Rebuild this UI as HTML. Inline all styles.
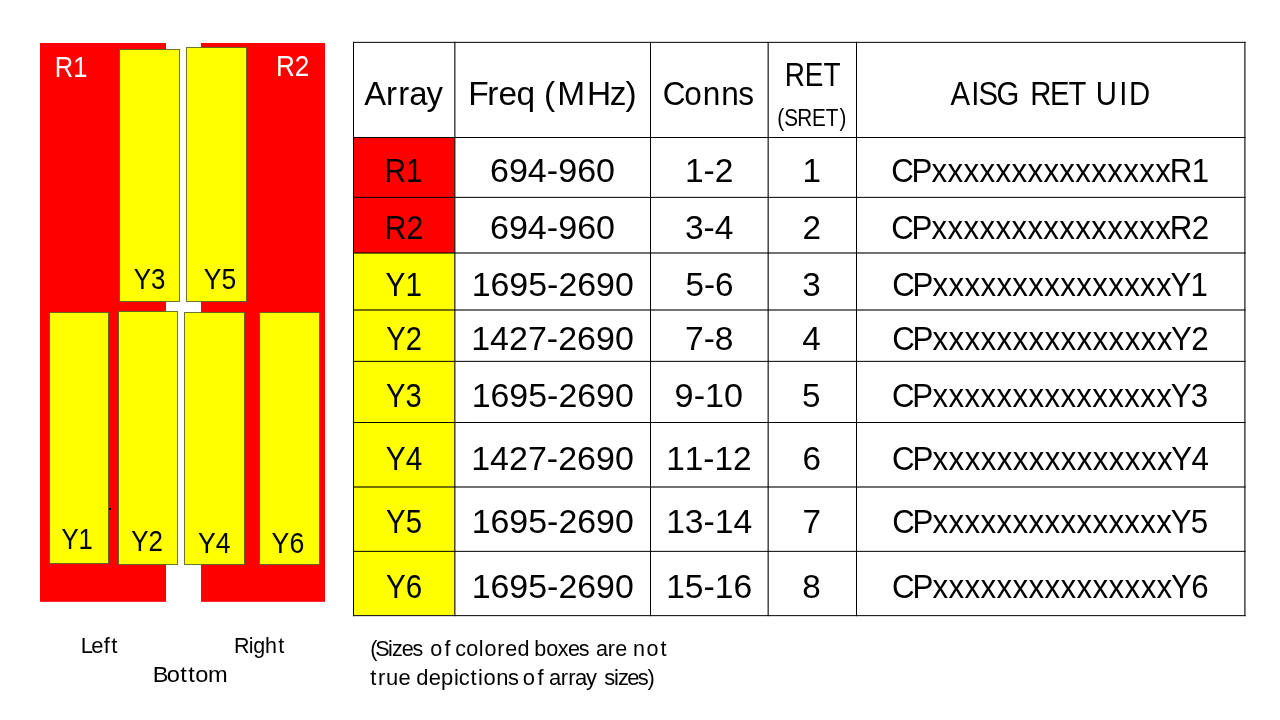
<!DOCTYPE html>
<html lang="en"><head><meta charset="utf-8"><title>Array table</title>
<style>
html,body{margin:0;padding:0;background:#fff;}
body{width:1280px;height:720px;overflow:hidden;}
svg{display:block;font-family:"Liberation Sans", sans-serif;}
text{white-space:pre;}
</style></head><body>
<svg width="1280" height="720" viewBox="0 0 1280 720">
<rect x="40" y="43" width="126" height="558.8" fill="#ff0000"/>
<rect x="201" y="43" width="124" height="558.8" fill="#ff0000"/>
<rect x="119.5" y="49.5" width="60" height="252" fill="#ffff00" stroke="#4f5f22" stroke-opacity="0.85" stroke-width="1"/>
<rect x="186.5" y="47.5" width="60" height="254" fill="#ffff00" stroke="#4f5f22" stroke-opacity="0.85" stroke-width="1"/>
<rect x="49.5" y="312.5" width="59" height="251" fill="#ffff00" stroke="#4f5f22" stroke-opacity="0.85" stroke-width="1"/>
<rect x="118.5" y="311.5" width="59" height="253" fill="#ffff00" stroke="#4f5f22" stroke-opacity="0.85" stroke-width="1"/>
<rect x="184.5" y="312.5" width="60" height="252" fill="#ffff00" stroke="#4f5f22" stroke-opacity="0.85" stroke-width="1"/>
<rect x="259.5" y="312.5" width="60" height="252" fill="#ffff00" stroke="#4f5f22" stroke-opacity="0.85" stroke-width="1"/>
<rect x="109" y="508" width="2" height="2" fill="#000"/>
<rect x="354" y="138" width="100.6" height="115" fill="#ff0000"/>
<rect x="354" y="253" width="100.6" height="362.3" fill="#ffff00"/>
<rect x="353" y="41.85" width="892.6" height="1" fill="#000"/>
<rect x="353" y="137" width="892.6" height="1" fill="#000"/>
<rect x="353" y="196.85" width="892.6" height="1" fill="#000"/>
<rect x="353" y="252.45" width="892.6" height="1.1" fill="#000"/>
<rect x="353" y="309.45" width="892.6" height="1.1" fill="#000"/>
<rect x="353" y="360.85" width="892.6" height="1" fill="#000"/>
<rect x="353" y="422" width="892.6" height="1" fill="#000"/>
<rect x="353" y="486.45" width="892.6" height="1.1" fill="#000"/>
<rect x="353" y="550.85" width="892.6" height="1" fill="#000"/>
<rect x="353" y="615.15" width="892.6" height="1" fill="#000"/>
<rect x="353" y="41.85" width="1" height="574.3" fill="#000"/>
<rect x="454.3" y="41.85" width="1.1" height="574.3" fill="#000"/>
<rect x="650" y="41.85" width="1" height="574.3" fill="#000"/>
<rect x="767.6" y="41.85" width="1.1" height="574.3" fill="#000"/>
<rect x="856" y="41.85" width="1" height="574.3" fill="#000"/>
<rect x="1244.35" y="41.85" width="1.1" height="574.3" fill="#000"/>
<text transform="translate(0 76.90) scale(0.8745 1)" x="62.67 83.76" font-size="29.20" fill="#fff">R1</text>
<text transform="translate(0 75.70) scale(0.8935 1)" x="308.84 329.93" font-size="29.20" fill="#fff">R2</text>
<text transform="translate(0 288.75) scale(0.8878 1)" x="150.74 170.22" font-size="29.20" fill="#000">Y3</text>
<text transform="translate(0 288.75) scale(0.9040 1)" x="225.45 244.93" font-size="29.20" fill="#000">Y5</text>
<text transform="translate(0 549.10) scale(0.8797 1)" x="69.84 89.31" font-size="29.20" fill="#000">Y1</text>
<text transform="translate(0 551.40) scale(0.8868 1)" x="147.99 167.47" font-size="29.20" fill="#000">Y2</text>
<text transform="translate(0 552.70) scale(0.9089 1)" x="217.98 237.46" font-size="29.20" fill="#000">Y4</text>
<text transform="translate(0 552.70) scale(0.9144 1)" x="297.03 316.50" font-size="29.20" fill="#000">Y6</text>
<text transform="translate(0 652.75) scale(1.0037 1)" x="80.40 91.05 103.42 110.84" font-size="21.90" fill="#000">Left</text>
<text transform="translate(0 652.75) scale(0.9803 1)" x="238.84 253.64 258.43 270.45 283.88" font-size="21.90" fill="#000">Right</text>
<text transform="translate(0 681.60) scale(1.0780 1)" x="141.70 154.76 167.33 174.74 181.22 192.84" font-size="21.90" fill="#000">Bottom</text>
<text transform="translate(0 104.50) scale(0.9805 1)" x="371.57 393.74 406.21 417.27 434.86" font-size="33.50" fill="#000">Array</text>
<text transform="translate(0 104.50) scale(0.9987 1)" x="468.76 487.78 499.11 517.30 535.65 544.73 558.10 587.71 610.54 626.44" font-size="33.50" fill="#000">Freq (MHz)</text>
<text transform="translate(0 104.50) scale(0.9422 1)" x="703.53 726.16 745.86 765.52 783.61" font-size="33.50" fill="#000">Conns</text>
<text transform="translate(0 85.50) scale(0.8349 1)" x="939.92 963.80 986.45" font-size="33.50" fill="#000">RET</text>
<text transform="translate(0 125.90) scale(0.8635 1)" x="900.12 908.14 923.30 940.24 956.31 972.12" font-size="24.00" fill="#000">(SRET)</text>
<text transform="translate(0 104.50) scale(0.8756 1)" x="1085.60 1109.32 1117.51 1138.22 1165.97 1176.72 1199.06 1220.25 1242.34 1251.46 1278.14 1289.35" font-size="33.50" fill="#000">AISG RET UID</text>
<text transform="translate(0 181.75) scale(0.8910 1)" x="431.60 455.79" font-size="33.50" fill="#000">R1</text>
<text transform="translate(0 181.75) scale(1.0172 1)" x="481.72 500.33 518.95 537.61 548.80 567.41 586.03" font-size="33.50" fill="#000">694-960</text>
<text transform="translate(0 181.75) scale(1.0016 1)" x="683.88 702.51 713.67" font-size="33.50" fill="#000">1-2</text>
<text transform="translate(0 181.75) scale(0.9924 1)" x="808.57" font-size="33.50" fill="#000">1</text>
<text transform="translate(0 181.75) scale(0.9331 1)" x="955.14 976.82 998.39 1015.51 1032.62 1049.74 1066.86 1083.97 1101.09 1118.20 1135.32 1152.44 1169.55 1186.67 1203.78 1220.90 1238.02 1253.59 1277.12" font-size="33.50" fill="#000">CPxxxxxxxxxxxxxxxR1</text>
<text transform="translate(0 239.25) scale(0.9052 1)" x="424.80 448.99" font-size="33.50" fill="#000">R2</text>
<text transform="translate(0 239.25) scale(1.0172 1)" x="481.72 500.33 518.95 537.61 548.80 567.41 586.03" font-size="33.50" fill="#000">694-960</text>
<text transform="translate(0 239.25) scale(1.0019 1)" x="683.65 702.28 713.44" font-size="33.50" fill="#000">3-4</text>
<text transform="translate(0 239.25) scale(0.9924 1)" x="808.65" font-size="33.50" fill="#000">2</text>
<text transform="translate(0 239.25) scale(0.9332 1)" x="955.00 976.68 998.25 1015.37 1032.48 1049.60 1066.72 1083.83 1100.95 1118.06 1135.18 1152.30 1169.41 1186.53 1203.65 1220.76 1237.88 1253.45 1276.98" font-size="33.50" fill="#000">CPxxxxxxxxxxxxxxxR2</text>
<text transform="translate(0 296.00) scale(0.8872 1)" x="434.61 456.95" font-size="33.50" fill="#000">Y1</text>
<text transform="translate(0 296.00) scale(1.0122 1)" x="465.99 484.61 503.23 521.85 540.51 551.70 570.32 588.94 607.56" font-size="33.50" fill="#000">1695-2690</text>
<text transform="translate(0 296.00) scale(0.9922 1)" x="690.79 709.42 720.58" font-size="33.50" fill="#000">5-6</text>
<text transform="translate(0 296.00) scale(0.9924 1)" x="808.50" font-size="33.50" fill="#000">3</text>
<text transform="translate(0 296.00) scale(0.9317 1)" x="957.62 979.32 1000.91 1018.05 1035.18 1052.32 1069.45 1086.59 1103.73 1120.86 1138.00 1155.13 1172.27 1189.41 1206.54 1223.68 1240.81 1256.22 1277.75" font-size="33.50" fill="#000">CPxxxxxxxxxxxxxxxY1</text>
<text transform="translate(0 350.25) scale(0.8689 1)" x="444.65 467.00" font-size="33.50" fill="#000">Y2</text>
<text transform="translate(0 350.25) scale(1.0154 1)" x="464.02 482.64 501.26 519.88 538.54 549.73 568.35 586.97 605.59" font-size="33.50" fill="#000">1427-2690</text>
<text transform="translate(0 350.25) scale(1.0001 1)" x="684.95 703.58 714.74" font-size="33.50" fill="#000">7-8</text>
<text transform="translate(0 350.25) scale(0.9924 1)" x="808.51" font-size="33.50" fill="#000">4</text>
<text transform="translate(0 350.25) scale(0.9340 1)" x="955.18 976.88 998.47 1015.61 1032.75 1049.88 1067.02 1084.15 1101.29 1118.43 1135.56 1152.70 1169.83 1186.97 1204.11 1221.24 1238.38 1253.78 1275.31" font-size="33.50" fill="#000">CPxxxxxxxxxxxxxxxY2</text>
<text transform="translate(0 406.50) scale(0.8706 1)" x="443.51 465.85" font-size="33.50" fill="#000">Y3</text>
<text transform="translate(0 406.50) scale(1.0122 1)" x="465.99 484.61 503.23 521.85 540.51 551.70 570.32 588.94 607.56" font-size="33.50" fill="#000">1695-2690</text>
<text transform="translate(0 406.50) scale(1.0207 1)" x="660.95 679.60 690.77 709.37" font-size="33.50" fill="#000">9-10</text>
<text transform="translate(0 406.50) scale(0.9924 1)" x="808.18" font-size="33.50" fill="#000">5</text>
<text transform="translate(0 406.50) scale(0.9328 1)" x="956.40 978.10 999.69 1016.83 1033.96 1051.10 1068.24 1085.37 1102.51 1119.64 1136.78 1153.92 1171.05 1188.19 1205.32 1222.46 1239.60 1255.00 1276.53" font-size="33.50" fill="#000">CPxxxxxxxxxxxxxxxY3</text>
<text transform="translate(0 469.50) scale(0.8915 1)" x="432.78 455.13" font-size="33.50" fill="#000">Y4</text>
<text transform="translate(0 469.50) scale(1.0154 1)" x="464.02 482.64 501.26 519.88 538.54 549.73 568.35 586.97 605.59" font-size="33.50" fill="#000">1427-2690</text>
<text transform="translate(0 469.50) scale(0.9976 1)" x="667.79 686.40 705.05 716.23 734.84" font-size="33.50" fill="#000">11-12</text>
<text transform="translate(0 469.50) scale(0.9924 1)" x="808.66" font-size="33.50" fill="#000">6</text>
<text transform="translate(0 469.50) scale(0.9350 1)" x="954.13 975.83 997.43 1014.57 1031.70 1048.84 1065.97 1083.11 1100.25 1117.38 1134.52 1151.65 1168.79 1185.92 1203.06 1220.20 1237.33 1252.74 1274.26" font-size="33.50" fill="#000">CPxxxxxxxxxxxxxxxY4</text>
<text transform="translate(0 533.25) scale(0.8756 1)" x="440.98 463.33" font-size="33.50" fill="#000">Y5</text>
<text transform="translate(0 533.25) scale(1.0122 1)" x="465.99 484.61 503.23 521.85 540.51 551.70 570.32 588.94 607.56" font-size="33.50" fill="#000">1695-2690</text>
<text transform="translate(0 533.25) scale(1.0043 1)" x="663.34 681.94 700.60 711.78 730.39" font-size="33.50" fill="#000">13-14</text>
<text transform="translate(0 533.25) scale(0.9924 1)" x="808.64" font-size="33.50" fill="#000">7</text>
<text transform="translate(0 533.25) scale(0.9327 1)" x="956.58 978.28 999.88 1017.02 1034.15 1051.29 1068.42 1085.56 1102.69 1119.83 1136.97 1154.10 1171.24 1188.37 1205.51 1222.65 1239.78 1255.19 1276.71" font-size="33.50" fill="#000">CPxxxxxxxxxxxxxxxY5</text>
<text transform="translate(0 597.75) scale(0.8835 1)" x="437.02 459.37" font-size="33.50" fill="#000">Y6</text>
<text transform="translate(0 597.75) scale(1.0122 1)" x="465.99 484.61 503.23 521.85 540.51 551.70 570.32 588.94 607.56" font-size="33.50" fill="#000">1695-2690</text>
<text transform="translate(0 597.75) scale(1.0042 1)" x="663.39 682.00 700.66 711.84 730.44" font-size="33.50" fill="#000">15-16</text>
<text transform="translate(0 597.75) scale(0.9924 1)" x="808.53" font-size="33.50" fill="#000">8</text>
<text transform="translate(0 597.75) scale(0.9340 1)" x="955.17 976.88 998.47 1015.61 1032.74 1049.88 1067.01 1084.15 1101.29 1118.42 1135.56 1152.69 1169.83 1186.96 1204.10 1221.24 1238.37 1253.78 1275.31" font-size="33.50" fill="#000">CPxxxxxxxxxxxxxxxY6</text>
<text transform="translate(0 655.60) scale(0.9855 1)" x="375.60 380.80 393.66 397.86 407.61 418.55 430.11 436.67 451.11 457.05 462.03 473.03 485.93 491.52 504.67 512.59 525.10 536.63 542.06 554.30 566.08 576.29 587.25 598.50 604.75 616.83 624.25 636.55 642.27 655.93 670.17" font-size="21.90" fill="#000">(Sizes of colored boxes are not</text>
<text transform="translate(0 684.60) scale(1.0027 1)" x="369.26 376.93 385.06 397.43 409.33 415.20 427.57 439.95 452.73 457.58 469.18 476.62 482.11 494.83 506.53 516.47 521.41 536.15 542.35 547.57 559.13 566.82 573.49 584.37 596.15 602.50 612.43 616.33 625.64 636.14 645.69" font-size="21.90" fill="#000">true depictions of array sizes)</text>
</svg>
</body></html>
